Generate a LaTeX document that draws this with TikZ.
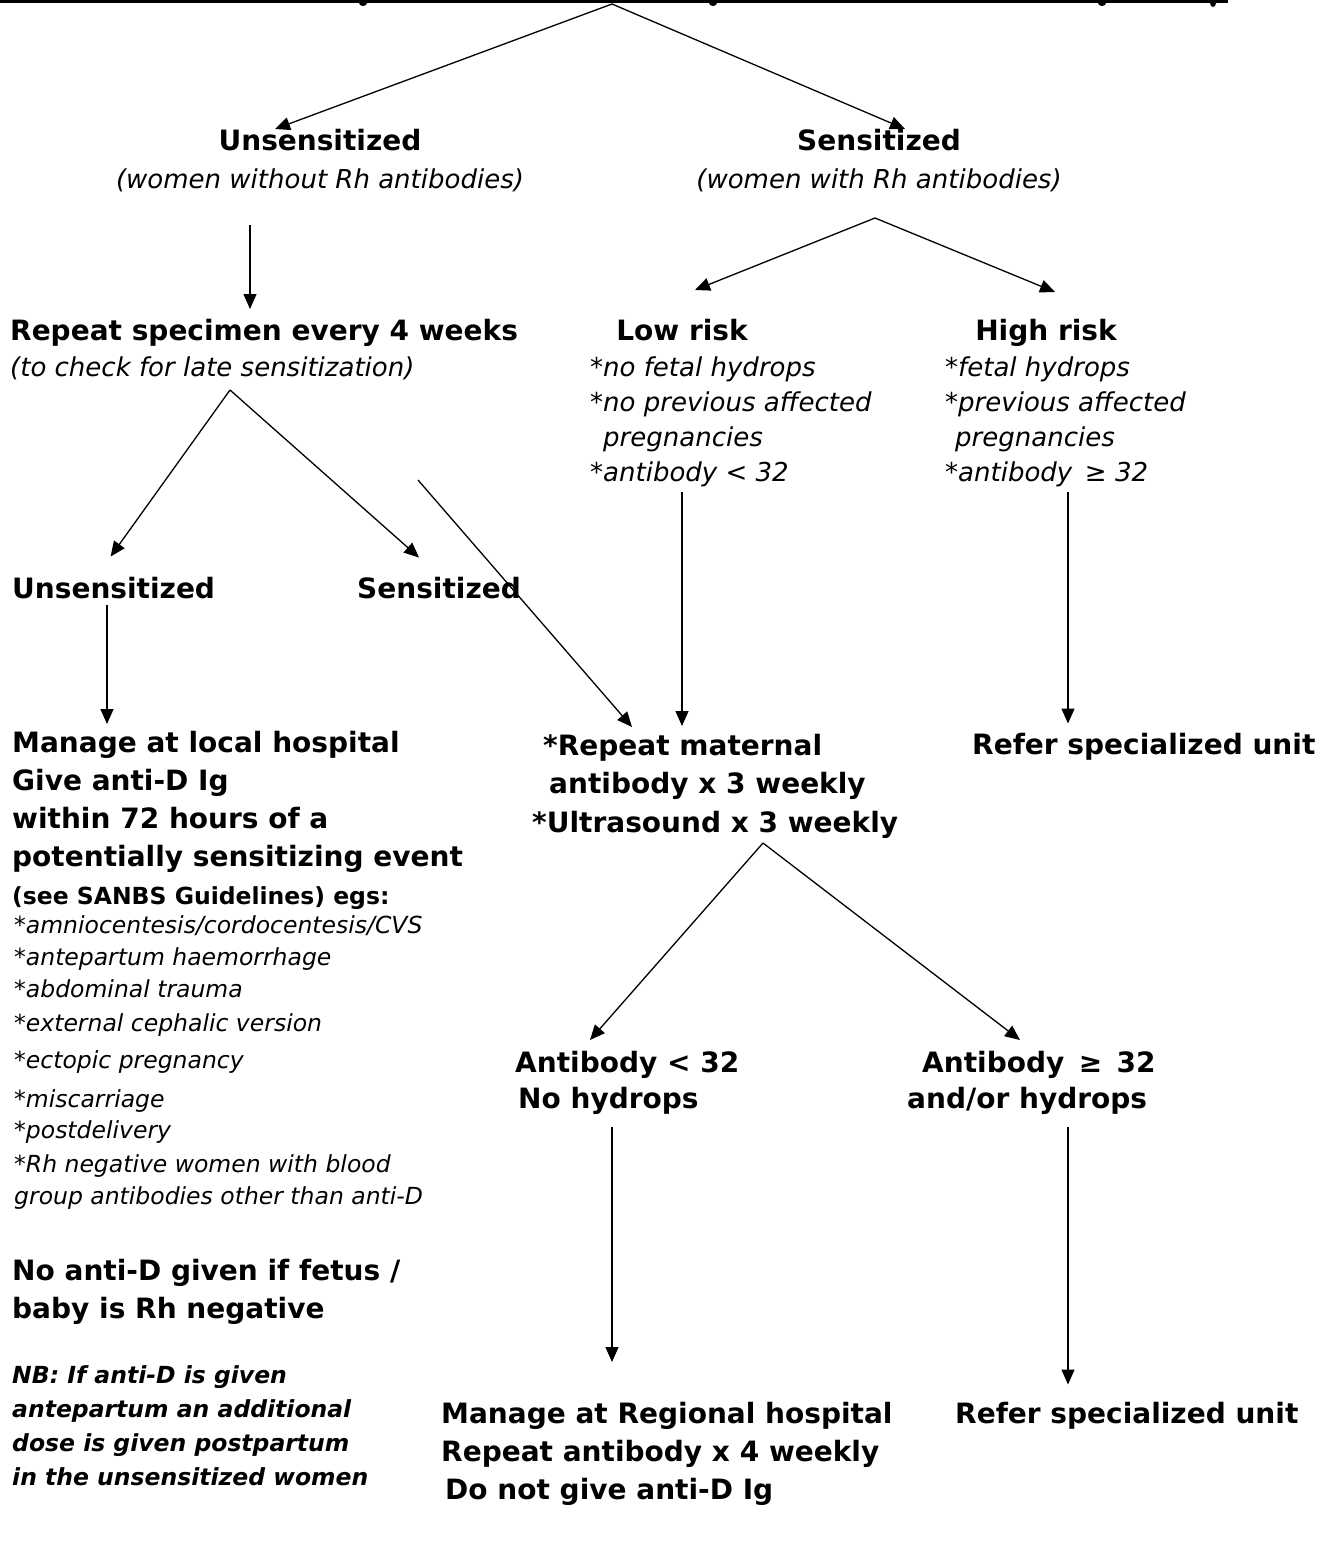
\documentclass[tikz,border=0pt]{standalone}
\usepackage{fontspec}
\setmainfont{DejaVu Sans}
\usetikzlibrary{arrows.meta}

\begin{document}
\begin{tikzpicture}[x=1pt, y=-1pt,
    seta/.style={black, line width=1.3pt, -{Triangle[length=15pt,width=13pt]}},
    negrito/.style={inner sep=0pt, font=\fontsize{28}{38}\selectfont\bfseries},
    italico/.style={inner sep=0pt, font=\fontsize{26}{34.7}\selectfont\itshape},
    lista/.style={inner sep=0pt, font=\fontsize{23.5}{32}\selectfont\itshape},
    nota/.style={inner sep=0pt, font=\fontsize{23.5}{34}\selectfont\bfseries\itshape}]
  \useasboundingbox (0,0) rectangle (1337,1541);

  % Linha do titulo (cortada)
  \draw[black, line width=3pt] (0,1.5) -- (1228,1.5);
  \fill[black] (363,3) ellipse (4 and 3);
  \fill[black] (713,3) ellipse (4 and 3);
  \fill[black] (1102,3) ellipse (4 and 3);
  \fill[black] (1213,3) ellipse (3 and 4);

  % Pontos de partida
  \coordinate (top) at (612,4);
  \coordinate (u1)  at (250,225);
  \coordinate (s1)  at (875,218);
  \coordinate (r1)  at (230,390);
  \coordinate (x1)  at (418,480);
  \coordinate (l1)  at (682,492);
  \coordinate (h1)  at (1068,492);
  \coordinate (m1)  at (107,605);
  \coordinate (a1)  at (763,843);
  \coordinate (b1)  at (612,1127);
  \coordinate (c1)  at (1068,1127);

  % Primeiro nivel
  \node[negrito, anchor=north, align=center] (unsens) at (320,129)
    {Unsensitized\\{\normalfont\itshape\fontsize{26}{38}\selectfont (women without Rh antibodies)}};
  \node[negrito, anchor=north, align=center] (sens) at (879,129)
    {Sensitized\\{\normalfont\itshape\fontsize{26}{38}\selectfont (women with Rh antibodies)}};

  % Lado esquerdo
  \node[negrito, anchor=north west, align=left, font=\fontsize{28}{36}\selectfont\bfseries] (repeat) at (10,319)
    {Repeat specimen every 4 weeks\\{\normalfont\itshape\fontsize{26}{36}\selectfont (to check for late sensitization)}};
  \node[negrito, anchor=base west] (unsens2) at (12,598) {Unsensitized};
  \node[negrito, anchor=base west] (sens2)   at (357,598) {Sensitized};

  \node[negrito, anchor=north west, align=left] (local) at (12,731)
    {Manage at local hospital\\Give anti-D Ig\\within 72 hours of a\\potentially sensitizing event\\
     {\fontsize{23.5}{38}\selectfont (see SANBS Guidelines) egs:}};
  \node[lista, anchor=north west, align=left] (egs) at (14,915)
    {*amniocentesis/cordocentesis/CVS\\*antepartum haemorrhage\\*abdominal trauma\\[2pt]
     *external cephalic version\\[5pt]*ectopic pregnancy\\[7pt]*miscarriage\\[-1pt]
     *postdelivery\\[2pt]*Rh negative women with blood\\group antibodies other than anti-D};
  \node[negrito, anchor=north west, align=left] (noanti) at (12,1259)
    {No anti-D given if fetus /\\baby is Rh negative};
  \node[nota, anchor=north west, align=left] (nb) at (12,1365)
    {NB: If anti-D is given\\antepartum an additional\\dose is given postpartum\\in the unsensitized women};

  % Lado direito
  \node[negrito, anchor=north] (lowrisk)  at (682,319) {Low risk};
  \node[italico, anchor=north west, align=left] (lowlist) at (590,357)
    {*no fetal hydrops\\*no previous affected\\\hspace*{13pt}pregnancies\\*antibody < 32};
  \node[negrito, anchor=north] (highrisk) at (1046,319) {High risk};
  \node[italico, anchor=north west, align=left] (highlist) at (945,357)
    {*fetal hydrops\\*previous affected\\\hspace*{10pt}pregnancies\\*antibody \,≥ 32};

  \node[negrito, anchor=north west, align=left, font=\fontsize{28}{38.5}\selectfont\bfseries] (matab) at (532,734)
    {\hspace*{11pt}*Repeat maternal\\\hspace*{17pt}antibody x 3 weekly\\*Ultrasound x 3 weekly};
  \node[negrito, anchor=base west] (refer1) at (972,754) {Refer specialized unit};

  \node[negrito, anchor=north west, align=left, font=\fontsize{28}{36}\selectfont\bfseries] (ablow) at (515,1051)
    {Antibody < 32\\\hspace*{3pt}No hydrops};
  \node[negrito, anchor=north west, align=left, font=\fontsize{28}{36}\selectfont\bfseries] (abhigh) at (907,1051)
    {\hspace*{15pt}Antibody \,≥ \,32\\and/or hydrops};

  \node[negrito, anchor=north west, align=left] (regional) at (441,1402)
    {Manage at Regional hospital\\Repeat antibody x 4 weekly\\\hspace*{4pt}Do not give anti-D Ig};
  \node[negrito, anchor=base west] (refer2) at (955,1423) {Refer specialized unit};

  % Setas
  \draw[seta] (top) -- ([xshift=-45pt]unsens.north);
  \draw[seta] (top) -- ([xshift=26pt]sens.north);
  \draw[seta, shorten >=10pt] (u1) -- (u1 |- repeat.north);
  \draw[seta] (s1) -- ([shift={(13pt,29pt)}]lowrisk.north);
  \draw[seta] (s1) -- ([shift={(9pt,27pt)}]highrisk.north);
  \draw[seta] (r1) -- ([shift={(-3pt,20pt)}]unsens2.north);
  \draw[seta] (r1) -- ([shift={(-20pt,19pt)}]sens2.north);
  \draw[seta] (x1) -- ([shift={(100pt,7pt)}]matab.north west);
  \draw[seta, shorten >=8pt] (l1) -- (l1 |- matab.north);
  \draw[seta, shorten >=9pt] (h1) -- (h1 |- refer1.north);
  \draw[seta, shorten >=7pt] (m1) -- (m1 |- local.north);
  \draw[seta] (a1) -- ([shift={(75pt,11pt)}]ablow.north west);
  \draw[seta] (a1) -- ([shift={(113pt,11pt)}]abhigh.north west);
  \draw[seta, shorten >=40pt] (b1) -- (b1 |- regional.north);
  \draw[seta, shorten >=17pt] (c1) -- (c1 |- refer2.north);

\end{tikzpicture}
\end{document}
